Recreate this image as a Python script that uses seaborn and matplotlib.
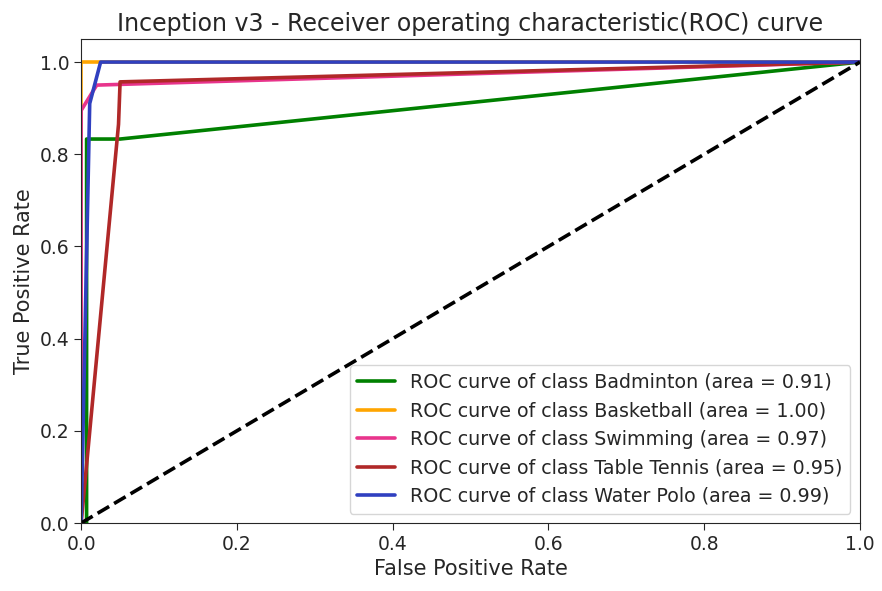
import matplotlib
matplotlib.use("Agg")
import matplotlib.pyplot as plt
import seaborn as sns
import pandas as pd

# --- ROC points ---
classes = ["Badminton", "Basketball", "Swimming", "Table Tennis", "Water Polo"]
areas = [0.91, 1.00, 0.97, 0.95, 0.99]

fpr_badminton = [0.0, 0.007, 0.007, 0.05, 1.0]
tpr_badminton = [0.0, 0.0, 0.833, 0.833, 1.0]

fpr_basketball = [0.0, 0.0, 0.02, 1.0]
tpr_basketball = [0.0, 1.0, 1.0, 1.0]

fpr_swimming = [0.0, 0.0, 0.02, 1.0]
tpr_swimming = [0.0, 0.895, 0.95, 1.0]

fpr_tabletennis = [0.0, 0.048, 0.05, 1.0]
tpr_tabletennis = [0.0, 0.865, 0.957, 1.0]

fpr_waterpolo = [0.0, 0.006, 0.011, 0.025, 1.0]
tpr_waterpolo = [0.0, 0.5, 0.91, 1.0, 1.0]

fprs = [fpr_badminton, fpr_basketball, fpr_swimming, fpr_tabletennis, fpr_waterpolo]
tprs = [tpr_badminton, tpr_basketball, tpr_swimming, tpr_tabletennis, tpr_waterpolo]
colors = ["green", "orange", "#e8348c", "#b02828", "#3040c0"]

sns.set_style("ticks")
plt.rcParams['font.family'] = ['DejaVu Sans']

fig, ax = plt.subplots(figsize=(8.82, 5.91), dpi=100)
fig.subplots_adjust(left=0.092, right=0.975, bottom=0.115, top=0.934)

for name, area, fp, tp, col in zip(classes, areas, fprs, tprs, colors):
    df = pd.DataFrame({"fpr": fp, "tpr": tp})
    sns.lineplot(data=df, x="fpr", y="tpr", ax=ax, color=col, linewidth=2.6,
                 sort=False, estimator=None,
                 label=f"ROC curve of class {name} (area = {area:.2f})")

# chance line
sns.lineplot(x=[0, 1], y=[0, 1], ax=ax, color="black", linewidth=2.6,
             linestyle="--", sort=False, estimator=None)

ax.set_xlim(0.0, 1.0)
ax.set_ylim(0.0, 1.05)
ax.set_xticks([0.0, 0.2, 0.4, 0.6, 0.8, 1.0])
ax.set_yticks([0.0, 0.2, 0.4, 0.6, 0.8, 1.0])
ax.tick_params(labelsize=13.5, length=5)
ax.set_xlabel("False Positive Rate", fontsize=15)
ax.set_ylabel("True Positive Rate", fontsize=15)
ax.set_title("Inception v3 - Receiver operating characteristic(ROC) curve", fontsize=17)
ax.legend(loc="lower right", fontsize=13.7)

fig.savefig("out.png", dpi=100)
